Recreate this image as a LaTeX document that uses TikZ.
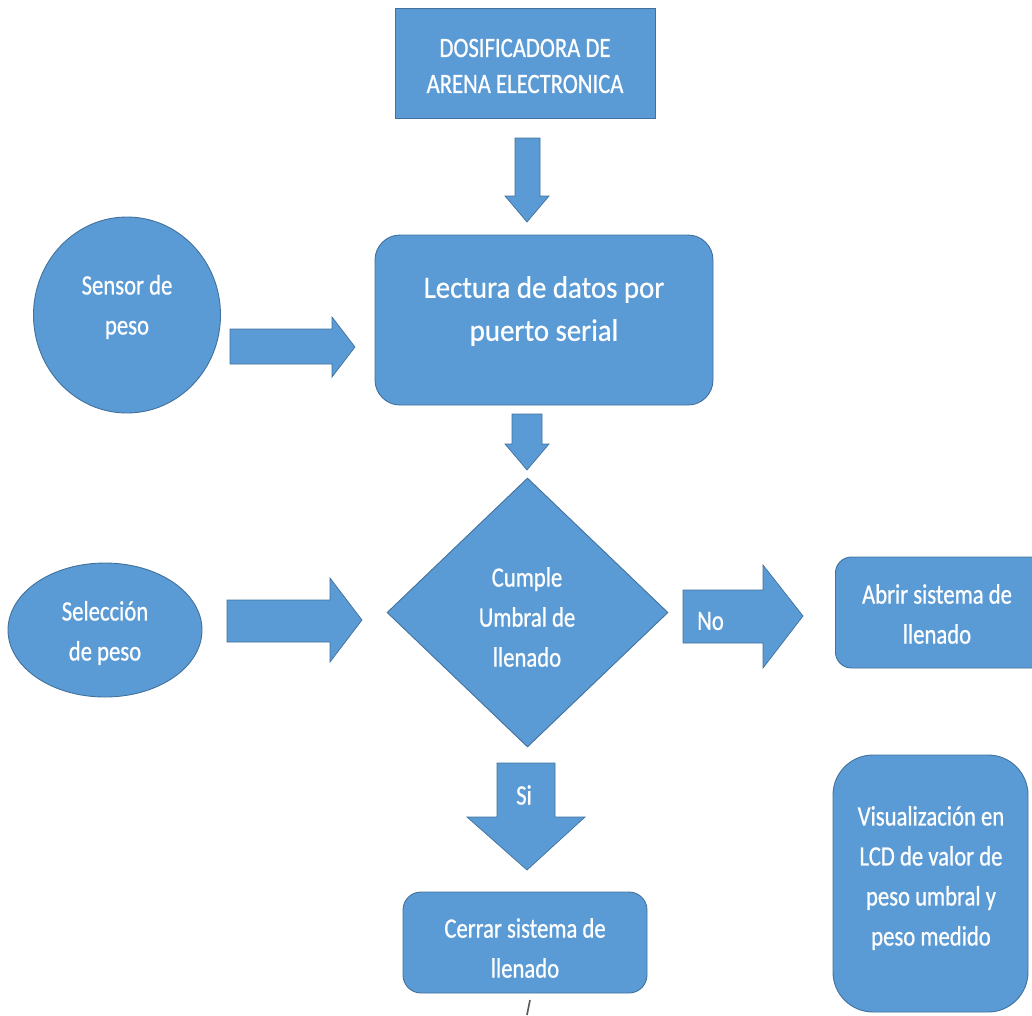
\documentclass[tikz,border=0pt]{standalone}
\usepackage{fontspec}
\setmainfont{Carlito}
\newfontfamily\boxfont{Carlito}[FakeStretch=0.81,FakeBold=0.7]
\newfontfamily\wideboxfont{Carlito}[FakeStretch=0.93,FakeBold=0.6]
\usetikzlibrary{shapes.geometric}
\definecolor{boxfill}{HTML}{5B9BD5}
\definecolor{boxline}{HTML}{41719C}
\begin{document}
\begin{tikzpicture}[x=1pt,y=-1pt,
  shapebase/.style={fill=boxfill,draw=boxline,line width=0.9pt,inner sep=0pt},
  squarebox/.style={shapebase,rectangle},
  roundbox/.style={shapebase,rectangle,rounded corners=#1},
  roundbox/.default=18pt,
  fatarrow/.style={fill=boxfill,draw=boxline,line width=0.7pt,line join=miter},
  txt/.style={text=white,align=center,inner sep=0pt,
    font=\boxfont\fontsize{28}{40}\selectfont},
  bigtxt/.style={text=white,align=center,inner sep=0pt,
    font=\wideboxfont\fontsize{31}{43}\selectfont}]
\clip (0,0) rectangle (1032,1015);

% --- shapes ---
\node[squarebox,minimum width=260pt,minimum height=110pt] (dos) at (525,63) {};
\node[roundbox=25pt,minimum width=338pt,minimum height=170pt] (lect) at (544,320) {};
\node[shapebase,ellipse,minimum width=187pt,minimum height=196pt] (sensor) at (127,315) {};
\node[shapebase,ellipse,minimum width=194pt,minimum height=134pt] (selec) at (105,630) {};
\node[shapebase,diamond,aspect=1.045,minimum width=281pt,minimum height=269pt] (cumple) at (527.5,612.5) {};
\node[roundbox=16pt,minimum width=230pt,minimum height=111pt,anchor=west] (abrir) at (835,612.5) {};
\node[roundbox=18pt,minimum width=244pt,minimum height=101pt] (cerrar) at (525,942.5) {};
\node[roundbox=40pt,minimum width=195pt,minimum height=257pt] (lcd) at (930.5,883.5) {};

% --- texts ---
\node[txt,font=\boxfont\fontsize{28}{36}\selectfont] (dos-t) at (dos.center) [yshift=-3pt] {DOSIFICADORA DE\\ARENA ELECTRONICA};
\node[bigtxt] (lect-t) at (544,311) {Lectura de datos por\\puerto serial};
\node[txt] (sensor-t) at (127,307) {Sensor de\\peso};
\node[txt] (selec-t) at (105,633) {Selección\\de peso};
\node[txt] (cumple-t) at (527,617) {Cumple\\Umbral de\\llenado};
\node[txt] (abrir-t) at (937,614) {Abrir sistema de\\llenado};
\node[txt] (cerrar-t) at (525,948) {Cerrar sistema de\\llenado};
\node[txt] (lcd-t) at (931,878) {Visualización en\\LCD de valor de\\peso umbral y\\peso medido};

% --- block arrows ---
% dosificadora -> lectura
\draw[fatarrow] (515,138) -- (540,138) -- (540,196) -- (549,196) -- (527,222)
  -- (505,196) -- (515,196) -- cycle;
% sensor -> lectura
\draw[fatarrow] (230,329) -- (332,329) -- (332,317) -- (355,347) -- (332,377)
  -- (332,364) -- (230,364) -- cycle;
% lectura -> decision
\draw[fatarrow] (512,414) -- (542,414) -- (542,444) -- (549,444) -- (527,470)
  -- (505,444) -- (512,444) -- cycle;
% seleccion -> decision
\draw[fatarrow] (227,600) -- (330,600) -- (330,578) -- (362,620) -- (330,662)
  -- (330,642) -- (227,642) -- cycle;
% decision -> abrir (No)
\draw[fatarrow] (683,590) -- (763,590) -- (763,565) -- (803,616) -- (763,668)
  -- (763,643) -- (683,643) -- cycle;
% decision -> cerrar (Si)
\draw[fatarrow] (497,763) -- (555,763) -- (555,817) -- (585,817) -- (527,870)
  -- (467,817) -- (497,817) -- cycle;

\node[txt,anchor=west] (no-t) at (697,621) {No};
\node[txt] (si-t) at (524,795) {Si};

% small stroke under the last box
\draw[black!65,line width=1.6pt] (527,1015) -- (530,1000);
\end{tikzpicture}
\end{document}
